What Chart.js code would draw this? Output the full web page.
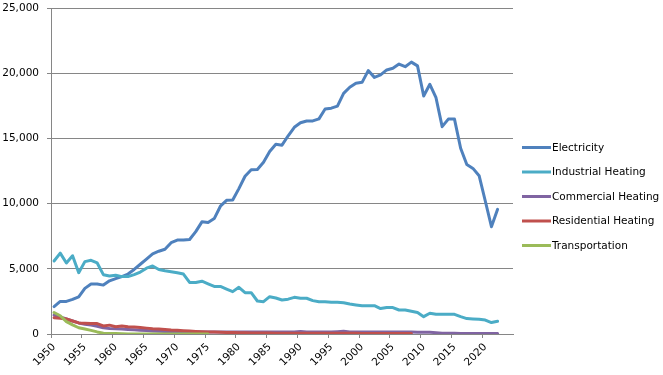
<!DOCTYPE html>
<html>
<head>
<meta charset="utf-8">
<script src="https://cdn.jsdelivr.net/npm/chart.js@4/dist/chart.umd.min.js"></script>
<style>
  html, body { margin: 0; padding: 0; background: #fff; }
  #wrap { width: 663px; height: 375px; }
</style>
</head>
<body>
<div id="wrap"><canvas id="chart"></canvas></div>
<script>
// Categories (2023-2024 are empty slots on the axis)
const years = [
  1950, 1951, 1952, 1953, 1954, 1955, 1956, 1957, 1958, 1959,
  1960, 1961, 1962, 1963, 1964, 1965, 1966, 1967, 1968, 1969,
  1970, 1971, 1972, 1973, 1974, 1975, 1976, 1977, 1978, 1979,
  1980, 1981, 1982, 1983, 1984, 1985, 1986, 1987, 1988, 1989,
  1990, 1991, 1992, 1993, 1994, 1995, 1996, 1997, 1998, 1999,
  2000, 2001, 2002, 2003, 2004, 2005, 2006, 2007, 2008, 2009,
  2010, 2011, 2012, 2013, 2014, 2015, 2016, 2017, 2018, 2019,
  2020, 2021, 2022, 2023, 2024
];

const electricity = [
  2100, 2500, 2500, 2650, 2850, 3500, 3840, 3840, 3750, 4080,
  4250, 4400, 4600, 4950, 5350, 5750, 6150, 6350, 6500, 7000,
  7200, 7200, 7250, 7850, 8600, 8550, 8850, 9800, 10250, 10280,
  11150, 12100, 12600, 12620, 13170, 14000, 14550, 14480, 15200, 15850,
  16200, 16330, 16340, 16500, 17250, 17320, 17480, 18450, 18920, 19230,
  19300, 20200, 19680, 19870, 20250, 20380, 20700, 20500, 20850, 20560,
  18250, 19150, 18120, 15900, 16480, 16480, 14240, 13000, 12700, 12140,
  10200, 8230, 9560, null, null
];

const industrialHeating = [
  5600, 6200, 5450, 6000, 4700, 5550, 5650, 5450, 4550, 4450,
  4500, 4400, 4400, 4550, 4750, 5050, 5220, 4950, 4850, 4780,
  4700, 4600, 3950, 3950, 4050, 3850, 3650, 3650, 3450, 3250,
  3580, 3170, 3170, 2530, 2480, 2860, 2760, 2610, 2670, 2810,
  2740, 2740, 2560, 2480, 2480, 2430, 2430, 2400, 2300, 2230,
  2170, 2170, 2170, 1950, 2030, 2030, 1840, 1840, 1740, 1650,
  1330, 1590, 1510, 1510, 1510, 1510, 1330, 1180, 1150, 1130,
  1070, 880, 980, null, null
];

const commercialHeating = [
  1450, 1300, 1150, 1000, 850, 750, 680, 600, 480, 430,
  400, 380, 350, 320, 290, 260, 230, 210, 190, 180,
  170, 160, 160, 150, 150, 150, 150, 150, 150, 150,
  150, 150, 150, 150, 150, 150, 150, 150, 150, 150,
  200, 150, 150, 150, 150, 150, 180, 220, 150, 150,
  150, 150, 150, 150, 150, 150, 150, 150, 150, 140,
  140, 140, 100, 60, 50, 50, 40, 40, 40, 40,
  40, 40, 40, null, null
];

const residentialHeating = [
  1250, 1200, 1150, 1000, 850, 820, 800, 800, 620, 680,
  560, 620, 560, 540, 500, 450, 400, 380, 340, 300,
  280, 250, 230, 200, 180, 160, 150, 130, 120, 110,
  100, 90, 80, 80, 70, 70, 60, 60, 60, 60,
  50, 50, 50, 50, 50, 50, 50, 50, 50, 50,
  40, 40, 40, 40, 40, 40, 40, 40, 40, null,
  null, null, null, null, null, null, null, null, null, null,
  null, null, null, null, null
];

const transportation = [
  1650, 1400, 950, 700, 480, 380, 280, 160, 60, 40,
  30, 10, 0, 0, 0, 0, 0, 0, 0, 0,
  0, 0, 0, 0, 0, 0, null, null, null, null,
  null, null, null, null, null, null, null, null, null, null,
  null, null, null, null, null, null, null, null, null, null,
  null, null, null, null, null, null, null, null, null, null,
  null, null, null, null, null, null, null, null, null, null,
  null, null, null, null, null
];

const yTicks = [0, 5000, 10000, 15000, 20000, 25000];

const FONT_FAMILY = '"DejaVu Sans", Verdana, sans-serif';
const FONT_SIZE = 10.5;
const GRID_COLOR = '#868686';

function series(label, data, color, order) {
  return {
    label: label,
    data: data,
    borderColor: color,
    backgroundColor: color,
    borderWidth: 3,
    pointRadius: 0,
    pointHoverRadius: 0,
    tension: 0,
    fill: false,
    spanGaps: false,
    borderJoinStyle: 'round',
    borderCapStyle: 'round',
    order: order
  };
}

// Legend drawn to the right of the plot, like the original
const sideLegend = {
  id: 'sideLegend',
  afterDraw(chart) {
    const ctx = chart.ctx;
    ctx.save();
    ctx.font = `${FONT_SIZE}px ${FONT_FAMILY}`;
    ctx.textBaseline = 'middle';
    ctx.textAlign = 'left';
    chart.data.datasets.forEach((ds, i) => {
      const y = 147.5 + i * 24.5;
      ctx.strokeStyle = ds.borderColor;
      ctx.lineWidth = 3;
      ctx.beginPath();
      ctx.moveTo(522, y);
      ctx.lineTo(551, y);
      ctx.stroke();
      ctx.fillStyle = '#000';
      ctx.fillText(ds.label, 552, y + 0.5);
    });
    ctx.restore();
  }
};

document.addEventListener('DOMContentLoaded', () => {
  const ctx = document.getElementById('chart').getContext('2d');

  new Chart(ctx, {
    type: 'line',
    data: {
      labels: years,
      datasets: [
        series('Electricity', electricity, '#4F81BD', 5),
        series('Industrial Heating', industrialHeating, '#4BACC6', 4),
        series('Commercial Heating', commercialHeating, '#8064A2', 3),
        series('Residential Heating', residentialHeating, '#C0504D', 2),
        series('Transportation', transportation, '#9BBB59', 1)
      ]
    },
    options: {
      responsive: true,
      maintainAspectRatio: false,
      animation: false,
      devicePixelRatio: 1,
      layout: { padding: { top: 0, right: 150, bottom: 0, left: 0 } },
      plugins: {
        legend: { display: false },
        tooltip: { enabled: false }
      },
      scales: {
        x: {
          type: 'category',
          offset: true,
          afterFit: (scale) => { scale.height = 41; },
          border: { color: GRID_COLOR, width: 1 },
          grid: {
            offset: true,
            drawOnChartArea: false,
            drawTicks: true,
            tickLength: 4,
            tickColor: (c) => (c.index % 5 === 0 ? GRID_COLOR : 'rgba(0,0,0,0)')
          },
          ticks: {
            autoSkip: false,
            maxRotation: 45,
            minRotation: 45,
            padding: 3,
            color: '#000',
            font: { family: FONT_FAMILY, size: FONT_SIZE },
            callback: (val, i) => (i % 5 === 0 && i <= 70 ? String(years[i]) : '')
          }
        },
        y: {
          min: yTicks[0],
          max: yTicks[yTicks.length - 1],
          afterFit: (scale) => {
            scale.width = 51;
            scale.paddingTop = 8; // top gridline sits 8px below the canvas edge
          },
          afterBuildTicks: (scale) => { scale.ticks = yTicks.map(v => ({ value: v })); },
          border: { color: GRID_COLOR, width: 1 },
          grid: {
            color: GRID_COLOR,
            lineWidth: 1,
            drawTicks: true,
            tickLength: 4
          },
          ticks: {
            padding: 8,
            color: '#000',
            font: { family: FONT_FAMILY, size: FONT_SIZE },
            callback: (v) => Number(v).toLocaleString('en-US')
          }
        }
      }
    },
    plugins: [sideLegend]
  });
});
</script>
</body>
</html>
